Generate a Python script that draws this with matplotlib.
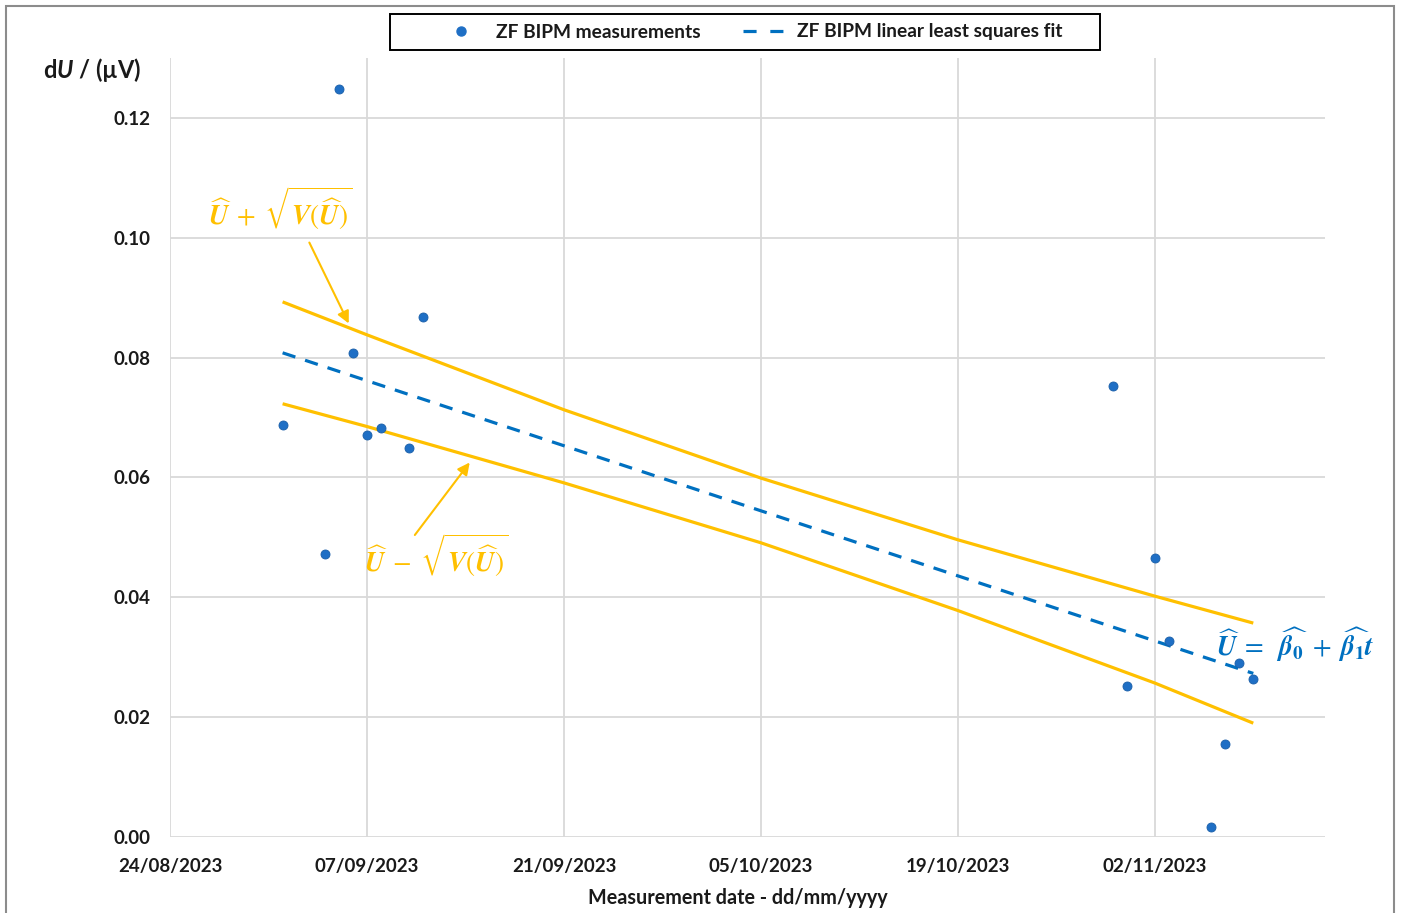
import datetime as dt

import numpy as np
import matplotlib
matplotlib.use('Agg')
import matplotlib.pyplot as plt
import matplotlib.dates as mdates
from matplotlib.patches import Rectangle
from matplotlib.lines import Line2D

plt.rcParams['font.family'] = ['Lato', 'DejaVu Sans']
plt.rcParams['mathtext.fontset'] = 'custom'
plt.rcParams['mathtext.rm'] = 'Lato:bold'
plt.rcParams['mathtext.it'] = 'Lato:italic:bold'
plt.rcParams['mathtext.bf'] = 'Lato:bold'

# --- data --- #

meas_dates = ['2023-09-01', '2023-09-04', '2023-09-05', '2023-09-06',
              '2023-09-07', '2023-09-08', '2023-09-10', '2023-09-11',
              '2023-10-30', '2023-10-31', '2023-11-02', '2023-11-03',
              '2023-11-06', '2023-11-07', '2023-11-08', '2023-11-09']
meas_du = [0.0688, 0.0472, 0.1249, 0.0808, 0.0671, 0.0683, 0.0649, 0.0868,
           0.0753, 0.0252, 0.0466, 0.0327, 0.0017, 0.0155, 0.0290, 0.0264]

fit_dates = ['2023-09-01', '2023-11-09']
fit_du = [0.0808, 0.0273]

band_dates = ['2023-09-01', '2023-09-07', '2023-09-21', '2023-10-05',
              '2023-10-19', '2023-11-02', '2023-11-09']
band_upper = [0.0893, 0.0838, 0.0713, 0.0599, 0.0496, 0.0402, 0.0357]
band_lower = [0.0723, 0.0685, 0.0591, 0.0491, 0.0378, 0.0257, 0.0190]

tick_start = '2023-08-24'
tick_step = 14   # days
n_ticks = 6
y_ticks = [0.00, 0.02, 0.04, 0.06, 0.08, 0.10, 0.12]

blue = '#1f6fc5'
blue_line = '#0070c0'
gold = '#ffc000'
txt = '#1a1a1a'


def to_dt(s):
    return dt.datetime.strptime(s, '%Y-%m-%d')


# --- plotting --- #

fig = plt.figure(figsize=(14.02, 9.13), dpi=100)
ax = fig.add_axes([0.1213, 0.0832, 0.8238, 0.8533])

x0 = to_dt(tick_start)
xticks = [x0 + dt.timedelta(days=tick_step * k) for k in range(n_ticks)]

ax.plot([to_dt(d) for d in band_dates], band_upper, color=gold, lw=2.3,
        solid_capstyle='butt', zorder=3)
ax.plot([to_dt(d) for d in band_dates], band_lower, color=gold, lw=2.3,
        solid_capstyle='butt', zorder=3)
p1, = ax.plot([to_dt(d) for d in fit_dates], fit_du, color=blue_line, lw=2.3,
              dashes=(4.2, 3.2), zorder=4)
p0, = ax.plot([to_dt(d) for d in meas_dates], meas_du, 'o', color=blue,
              markeredgecolor='#1a5fa8', markeredgewidth=0.6,
              markersize=6.5, zorder=5)

ax.set_xlim(x0, x0 + dt.timedelta(days=82.1))
ax.set_ylim(0, 0.13)
ax.set_xticks(xticks)
ax.xaxis.set_major_formatter(mdates.DateFormatter('%d/%m/%Y'))
ax.set_yticks(y_ticks)
ax.set_yticklabels(['%.2f' % v for v in y_ticks])

ax.grid(True, color='#d9d9d9', lw=1.3)
ax.set_axisbelow(True)
for s in ax.spines.values():
    s.set_visible(False)
ax.tick_params(length=0, labelsize=13.5)
ax.tick_params(axis='y', pad=14)
ax.tick_params(axis='x', pad=15)
for label in ax.get_xticklabels() + ax.get_yticklabels():
    label.set_fontweight('bold')
    label.set_color(txt)

ax.set_xlabel('Measurement date - dd/mm/yyyy', fontsize=14.2,
              fontweight='bold', color=txt)
ax.xaxis.set_label_coords((738 - 170) / 1155, -(898 - 837) / 779)
ax.xaxis.label.set_va('center')
fig.text(43 / 1402, 1 - 70 / 913, r'd$\mathit{U}$ / (µV)', fontsize=17,
         fontweight='bold', ha='left', va='center', color=txt)

# --- annotations --- #

math_kw = dict(math_fontfamily='stix', fontsize=19.5, ha='center',
               va='center')
ax.text(x0 + dt.timedelta(days=7.8), 0.1050,
        r'$\widehat{\mathbfit{U}}\;+\;\sqrt{\mathbfit{V}(\widehat{\mathbfit{U}})}$',
        color=gold, **math_kw)
ax.annotate('', xy=(x0 + dt.timedelta(days=12.7), 0.0857),
            xytext=(x0 + dt.timedelta(days=9.9), 0.0992),
            arrowprops=dict(arrowstyle='-|>', color=gold, lw=1.5,
                            mutation_scale=18, shrinkA=0, shrinkB=0))
ax.text(x0 + dt.timedelta(days=18.9), 0.0470,
        r'$\widehat{\mathbfit{U}}\;-\;\sqrt{\mathbfit{V}(\widehat{\mathbfit{U}})}$',
        color=gold, **math_kw)
ax.annotate('', xy=(x0 + dt.timedelta(days=21.3), 0.0625),
            xytext=(x0 + dt.timedelta(days=17.4), 0.0504),
            arrowprops=dict(arrowstyle='-|>', color=gold, lw=1.5,
                            mutation_scale=18, shrinkA=0, shrinkB=0))
ax.text(x0 + dt.timedelta(days=80.0), 0.0322,
        r'$\widehat{\mathbfit{U}}\;=\;\;\widehat{\mathbfit{\beta}_\mathbf{0}}'
        r'\;+\;\widehat{\mathbfit{\beta}_\mathbf{1}}\mathbfit{t}$',
        color=blue_line, clip_on=False, **math_kw)

# --- legend --- #

h0 = Line2D([], [], ls='none', marker='o', color=blue, markersize=6.5)
h1 = Line2D([], [], color=blue_line, lw=2.3, dashes=(4.1, 4.3))
leg = fig.legend([h0, h1], ['ZF BIPM measurements',
                            'ZF BIPM linear least squares fit'],
                 loc='center', bbox_to_anchor=(752 / 1402, 1 - 32 / 913),
                 ncol=2, frameon=False, prop=dict(size=13.8, weight='bold'),
                 handlelength=2.1, handletextpad=0.75, columnspacing=2.2,
                 borderpad=0, borderaxespad=0)
for t in leg.get_texts():
    t.set_color(txt)
fig.patches.append(Rectangle((390 / 1402, 1 - 50 / 913), 710 / 1402,
                             36 / 913, transform=fig.transFigure, fill=False,
                             edgecolor='black', lw=1.4))

# figure border
fig.patches.append(Rectangle((6 / 1402, -0.02), 1388 / 1402, 1.02 - 6 / 913,
                             transform=fig.transFigure, fill=False,
                             edgecolor='#8c8c8c', lw=1.5))

plt.savefig('out.png', dpi=100)
